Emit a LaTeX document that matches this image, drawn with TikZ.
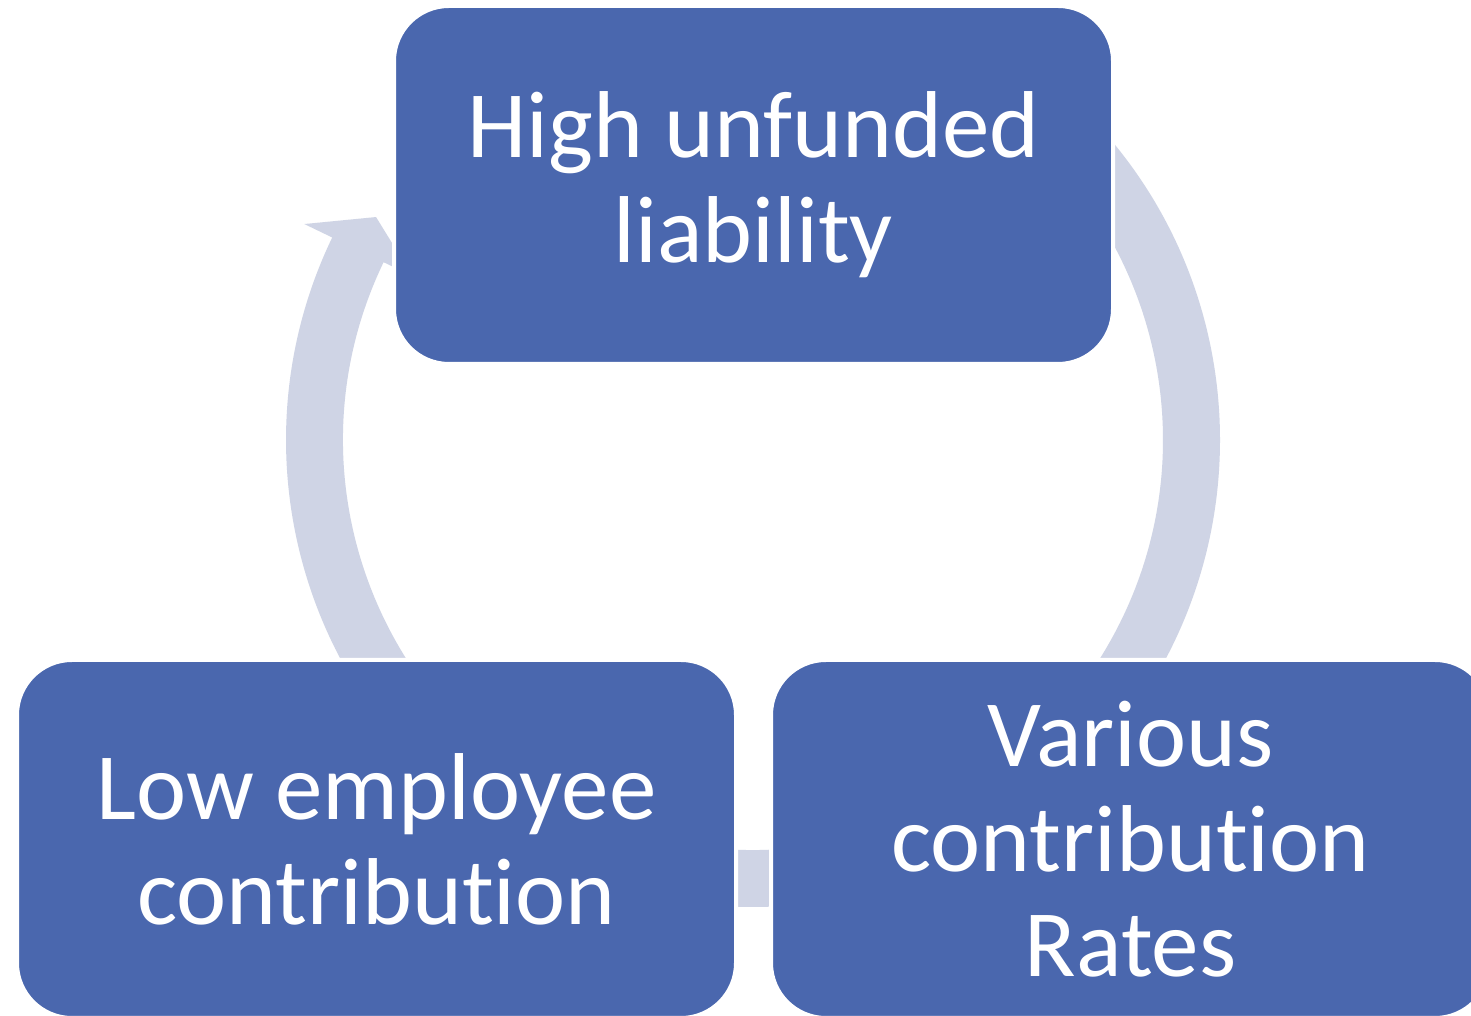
\documentclass[tikz,border=0pt]{standalone}
\usepackage{fontspec}
\setmainfont{Carlito}[Ligatures={NoCommon}]
\usetikzlibrary{calc}
\definecolor{boxblue}{RGB}{74,103,174}
\definecolor{ringgray}{RGB}{207,212,229}
\begin{document}
\begin{tikzpicture}[x=1pt,y=1pt,
  box/.style={fill=boxblue, draw=white, line width=4pt, rounded corners=55pt,
    minimum width=719pt, minimum height=358pt, text=white, align=center,
    font=\fontsize{95}{105}\selectfont, inner sep=0pt},
  ring/.style={fill=ringgray}]
\clip (0,0) rectangle (1471,1016);
\fill[white] (0,0) rectangle (1471,1016);
\coordinate (C) at (753,576);
% cycle ring with arrowhead at upper left
\fill[ring] ($(C)+(45:467)$) arc[start angle=45, end angle=-205.7, radius=467]
  -- ($(C)+(154.3:498)$) -- ($(C)+(149.4:438)$) -- ($(C)+(154.3:378)$)
  -- ($(C)+(154.3:410)$) arc[start angle=154.3, end angle=405, radius=410] -- cycle;
\node[box] (top) at (753.5,831) {High unfunded\\liability};
\node[box] (left) at (376.5,177) {Low employee\\contribution};
\node[box] (right) at (1130.5,177) {Various\\contribution\\Rates};
\end{tikzpicture}
\end{document}
